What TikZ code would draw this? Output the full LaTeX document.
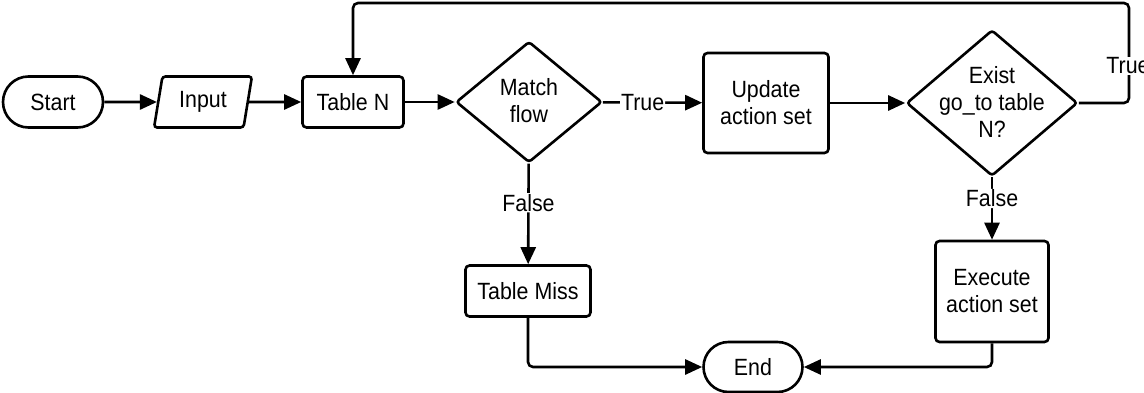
\documentclass[tikz,border=0pt]{standalone}
\usepackage{fontspec}
\setmainfont[FakeStretch=0.91]{Liberation Sans}
\usetikzlibrary{shapes.geometric,shapes.misc,arrows.meta}

\begin{document}
\begin{tikzpicture}[x=1pt,y=-1pt,
  line width=2.6pt,
  font=\fontsize{23.5}{27}\selectfont,
  box/.style={draw, rounded corners=4pt, inner sep=0pt, align=center},
  term/.style={draw, rounded rectangle, inner sep=0pt},
  dec/.style={draw, diamond, rounded corners=3pt, inner sep=0pt},
  io/.style={draw, trapezium, trapezium left angle=76.8, trapezium right angle=103.2,
             trapezium stretches=true, rounded corners=3pt, inner sep=0pt},
  flow/.style={-{Triangle[length=17pt,width=15pt]}, rounded corners=5pt},
  lbl/.style={fill=white, inner sep=1pt},
  txt/.style={align=center, inner sep=0pt},
]
\useasboundingbox (0,0) rectangle (1144,393);

% main row
\node[term, minimum width=100pt, minimum height=51pt] (start) at (53,102) {Start};
\node[io, minimum width=98pt, minimum height=51pt] (input) at (203,102) {Input};
\node[box, minimum width=101pt, minimum height=51pt] (tn) at (353,102) {Table N};
\node[dec, minimum width=146pt, minimum height=121pt] (mf) at (529,102) {};
\node[txt] (mft) at ([yshift=1.5pt]mf) {Match\\flow};
\node[box, minimum width=125pt, minimum height=100pt] (ua) at (766,103) {Update\\action set};
\node[dec, minimum width=171pt, minimum height=146pt] (ex) at (992,103) {};
\node[txt] (ext) at ([yshift=1.5pt]ex) {Exist\\go\_to table\\N?};

% lower row
\node[box, minimum width=125pt, minimum height=51pt] (tm) at (528,291) {Table Miss};
\node[box, minimum width=113pt, minimum height=101pt] (ea) at (992,291.5) {Execute\\action set};
\node[term, minimum width=99pt, minimum height=50pt] (end) at (753,367) {End};

% loop-back corner
\coordinate (lp) at (1129,3);

% connectors
\draw[flow] (start) -- (input);
\draw[flow] (input) -- (tn);
\draw[flow] (tn) -- (mf);
\draw[flow] (mf) -- node[lbl, pos=0.4] (mftrue) {True} (ua);
\draw[flow] (ua) -- (ex);
\draw[flow] (mf) -- node[lbl, pos=0.39] (mffalse) {False} (tm);
\draw[flow] (ex) -- node[lbl, pos=0.34] (exfalse) {False} (ea);
\draw[flow] (ex.east) -| (lp) -| (tn.north);
\node[lbl] (extrue) at (1128,66) {True};
\draw[flow] (tm.south) |- (end.west);
\draw[flow] (ea.south) |- (end.east);
\end{tikzpicture}
\end{document}
